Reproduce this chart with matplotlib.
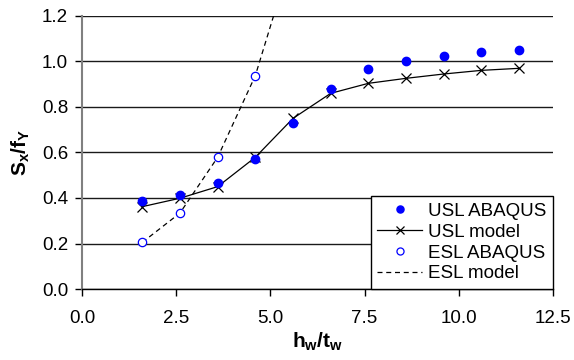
import matplotlib
matplotlib.use('Agg')
from matplotlib import pyplot as plt

plt.rcParams['font.family'] = ['Liberation Sans', 'DejaVu Sans']
plt.rcParams['mathtext.fontset'] = 'custom'
plt.rcParams['mathtext.rm'] = 'Liberation Sans'
plt.rcParams['mathtext.bf'] = 'Liberation Sans:bold'
plt.rcParams['mathtext.it'] = 'Liberation Sans:italic'

# slenderness h_w/t_w and normalised strength S_x/f_Y
hw_tw = [1.6, 2.6, 3.6, 4.6, 5.6, 6.6, 7.6, 8.6, 9.6, 10.6, 11.6]
usl_abaqus = [0.387, 0.412, 0.464, 0.570, 0.728, 0.878, 0.966, 1.001, 1.023, 1.043, 1.051]
usl_model = [0.362, 0.399, 0.450, 0.579, 0.750, 0.860, 0.904, 0.926, 0.945, 0.961, 0.970]

esl_x = [1.6, 2.6, 3.6, 4.6]
esl_abaqus = [0.205, 0.334, 0.579, 0.938]
esl_model_x = [1.6, 2.6, 3.6, 4.6, 5.6]
esl_model = [0.205, 0.334, 0.579, 0.938, 1.48]

fig = plt.figure(figsize=(5.74, 3.6), dpi=100)
ax = fig.add_axes([0.1429, 0.1972, 0.8205, 0.7584])

ax.plot(hw_tw, usl_abaqus, 'o', color='#0000ff', markersize=6, label='USL ABAQUS', zorder=4)
ax.plot(hw_tw, usl_model, '-x', color='black', lw=0.9, markersize=7, markeredgewidth=0.9,
        label='USL model', zorder=3)
ax.plot(esl_x, esl_abaqus, 'o', mfc='white', mec='#0000ff', markersize=6, markeredgewidth=0.9,
        label='ESL ABAQUS', zorder=4)
ax.plot(esl_model_x, esl_model, '--', color='black', lw=0.9, dashes=(4, 3), label='ESL model', zorder=2)

ax.set_xlim(0, 12.5)
ax.set_ylim(0, 1.2)
ax.set_xticks([0, 2.5, 5.0, 7.5, 10.0, 12.5])
ax.set_yticks([0, 0.2, 0.4, 0.6, 0.8, 1.0, 1.2])
ax.xaxis.set_major_formatter(matplotlib.ticker.FormatStrFormatter('%.1f'))
ax.yaxis.set_major_formatter(matplotlib.ticker.FormatStrFormatter('%.1f'))
ax.tick_params(labelsize=13.5, length=5, width=1, direction='out')
ax.tick_params(axis='x', pad=10)
ax.tick_params(axis='y', pad=5)

ax.yaxis.grid(True, color='#1a1a1a', lw=1)
ax.set_axisbelow(True)
for s in ['top', 'right']:
    ax.spines[s].set_visible(False)
ax.spines['left'].set_color('#808080')
ax.spines['left'].set_linewidth(1.5)
ax.spines['bottom'].set_color('black')
ax.spines['bottom'].set_linewidth(1)

ax.set_xlabel(r'$\mathbf{h_w/t_w}$', fontsize=15, labelpad=3)
ax.set_ylabel(r'$\mathbf{S_x/f_Y}$', fontsize=15, labelpad=7)

leg = ax.legend(loc='lower right', bbox_to_anchor=(1.0, 0.0), borderaxespad=0, fontsize=13.5,
                frameon=True, fancybox=False, edgecolor='black', framealpha=1,
                labelspacing=0.2, handlelength=2.4, handletextpad=0.3, borderpad=0.35,
                markerscale=0.85)
leg.get_frame().set_linewidth(1)

fig.savefig('out.png', dpi=100)
